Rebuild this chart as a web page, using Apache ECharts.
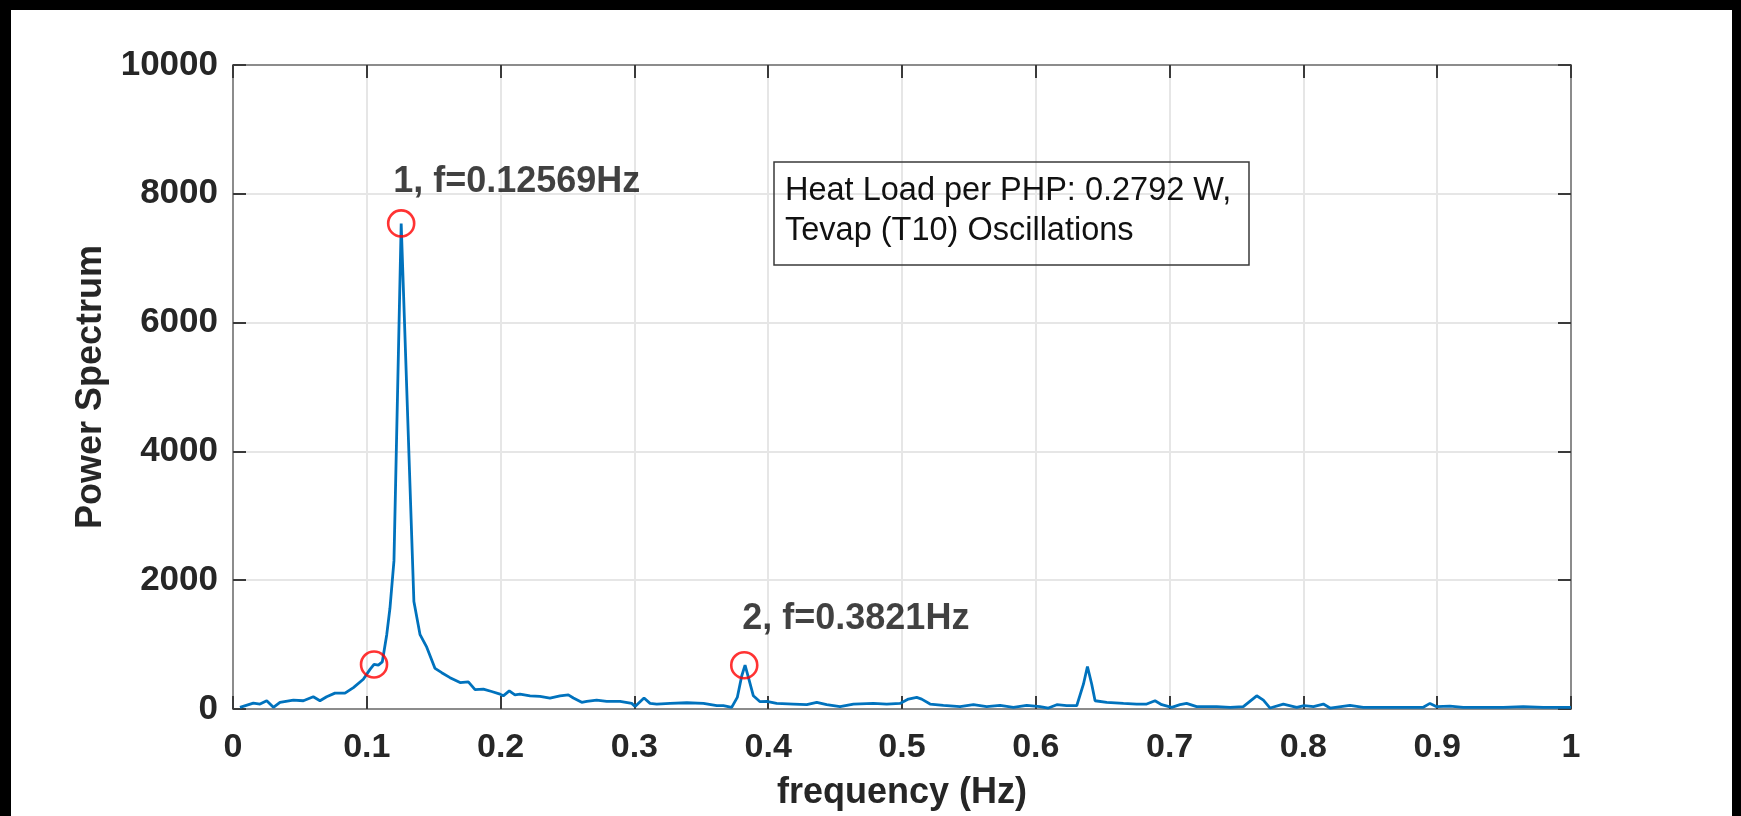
<!DOCTYPE html>
<html>
<head>
<meta charset="utf-8">
<script src="https://cdn.jsdelivr.net/npm/echarts@6/dist/echarts.min.js"></script>
<style>
  html, body { margin: 0; padding: 0; background: #ffffff; }
  #chart { width: 1741px; height: 816px; }
</style>
</head>
<body>
<div id="chart"></div>
<script>
// ---- data ----
const freqs = [0.0052,0.0062,0.0152,0.0202,0.0252,0.0302,0.0351,0.0451,0.0526,0.0600,0.0650,0.0700,0.0762,0.0837,0.0900,0.0974,0.1024,0.1054,0.1086,0.1116,0.1149,0.1173,0.1203,0.1257,0.1352,0.1398,0.1448,0.1510,0.1560,0.1622,0.1697,0.1759,0.1809,0.1871,0.1933,0.1996,0.2020,0.2065,0.2107,0.2145,0.2220,0.2294,0.2369,0.2444,0.2506,0.2544,0.2606,0.2644,0.2718,0.2793,0.2893,0.2980,0.3005,0.3072,0.3117,0.3167,0.3267,0.3392,0.3516,0.3616,0.3665,0.3727,0.3769,0.3802,0.3827,0.3859,0.3889,0.3939,0.3989,0.4063,0.4188,0.4288,0.4363,0.4437,0.4537,0.4637,0.4786,0.4886,0.4985,0.5048,0.5110,0.5147,0.5210,0.5309,0.5434,0.5534,0.5633,0.5733,0.5833,0.5932,0.6032,0.6094,0.6157,0.6231,0.6306,0.6356,0.6386,0.6418,0.6443,0.6530,0.6655,0.6754,0.6829,0.6891,0.6941,0.7016,0.7078,0.7127,0.7202,0.7352,0.7452,0.7551,0.7651,0.7701,0.7751,0.7850,0.7950,0.8005,0.8075,0.8149,0.8199,0.8348,0.8448,0.8597,0.8747,0.8896,0.8946,0.8996,0.9095,0.9195,0.9344,0.9494,0.9643,0.9793,1.0];
const power = [26,36,92,77,128,26,103,138,128,190,128,190,246,246,333,462,615,692,682,733,1154,1564,2300,7540,1670,1154,960,630,564,487,410,420,300,308,272,231,205,282,220,231,205,195,170,205,220,170,103,118,138,118,118,87,40,170,87,77,87,97,87,51,51,26,180,513,680,436,205,113,118,87,77,67,103,67,36,77,87,77,87,154,180,154,77,56,36,67,36,56,26,56,36,15,67,51,51,385,660,385,128,103,87,77,77,128,67,26,67,87,36,36,26,36,205,138,15,77,26,51,36,77,15,56,26,26,26,26,87,36,46,26,26,26,36,26,26];

const markFreqs  = [0.12569, 0.3821, 0.1054];
const markPower  = [7540, 680, 692];
const markLabels = ['1, f=0.12569Hz', '2, f=0.3821Hz', ''];

const xTicks = { min: 0, max: 1, interval: 0.1 };
const yTicks = { min: 0, max: 10000, interval: 2000 };

const xAxisName = 'frequency (Hz)';
const yAxisName = 'Power Spectrum';
const infoLines = ['Heat Load per PHP: 0.2792 W,', 'Tevap (T10) Oscillations'];

// ---- styles ----
const FONT = '"Liberation Sans", Arial, sans-serif';
const AXIS_COLOR = '#8c8c8c';
const TICK_COLOR = '#3a3a3a';
const GRID_COLOR = '#e6e6e6';
const TEXT_COLOR = '#262626';
const labelOffsets = [[-8, -41], [-2, -46], [0, 0]];

const lineData = freqs.map((f, i) => [f, power[i]]);
const markData = markFreqs.map((f, i) => ({
  value: [f, markPower[i]],
  label: { show: markLabels[i] !== '', offset: labelOffsets[i] }
}));

function fmt(v) { return String(Math.round(v * 1000) / 1000); }

const chart = echarts.init(document.getElementById('chart'), null, { renderer: 'canvas' });

const baseAxisLine = { show: true, onZero: false, lineStyle: { color: AXIS_COLOR, width: 2 } };
const baseTick = { show: true, inside: true, length: 13, lineStyle: { color: TICK_COLOR, width: 2 } };

chart.setOption({
  backgroundColor: '#ffffff',
  animation: false,
  textStyle: { fontFamily: FONT },
  grid: { left: 233, top: 65, width: 1338, height: 650, containLabel: false },
  xAxis: [
    {
      type: 'value', position: 'bottom',
      min: xTicks.min, max: xTicks.max, interval: xTicks.interval,
      axisLine: baseAxisLine, axisTick: baseTick,
      splitLine: { show: true, lineStyle: { color: GRID_COLOR, width: 2 } },
      axisLabel: { fontSize: 34, fontWeight: 'bold', color: TEXT_COLOR, margin: 22, fontFamily: FONT, formatter: fmt },
      name: xAxisName, nameLocation: 'middle', nameGap: 66,
      nameTextStyle: { fontSize: 36, fontWeight: 'bold', color: TEXT_COLOR, fontFamily: FONT }
    },
    {
      type: 'value', position: 'top',
      min: xTicks.min, max: xTicks.max, interval: xTicks.interval,
      axisLine: baseAxisLine, axisTick: baseTick,
      splitLine: { show: false }, axisLabel: { show: false }
    }
  ],
  yAxis: [
    {
      type: 'value', position: 'left',
      min: yTicks.min, max: yTicks.max, interval: yTicks.interval,
      axisLine: baseAxisLine, axisTick: baseTick,
      splitLine: { show: true, lineStyle: { color: GRID_COLOR, width: 2 } },
      axisLabel: { fontSize: 35, fontWeight: 'bold', color: TEXT_COLOR, margin: 15, fontFamily: FONT, formatter: fmt },
      name: yAxisName, nameLocation: 'middle', nameGap: 124,
      nameTextStyle: { fontSize: 36, fontWeight: 'bold', color: TEXT_COLOR, fontFamily: FONT }
    },
    {
      type: 'value', position: 'right',
      min: yTicks.min, max: yTicks.max, interval: yTicks.interval,
      axisLine: baseAxisLine, axisTick: baseTick,
      splitLine: { show: false }, axisLabel: { show: false }
    }
  ],
  series: [
    {
      type: 'line', xAxisIndex: 0, yAxisIndex: 0,
      data: lineData, showSymbol: false, symbol: 'none', smooth: false,
      lineStyle: { color: '#0072BD', width: 2.8 }, z: 3
    },
    {
      type: 'scatter', xAxisIndex: 0, yAxisIndex: 0,
      data: markData, symbol: 'circle', symbolSize: 26,
      itemStyle: { color: 'rgba(0,0,0,0)', borderColor: '#ff0000', borderWidth: 2.6 },
      label: {
        show: true, position: 'inside', align: 'left', verticalAlign: 'middle',
        fontSize: 36, fontWeight: 'bold', color: '#111111', fontFamily: FONT,
        formatter: p => markLabels[p.dataIndex]
      },
      emphasis: { disabled: true }, z: 4
    }
  ],
  graphic: [
    { type: 'rect', shape: { x: 774, y: 162, width: 475, height: 103 }, style: { fill: 'none', stroke: '#3a3a3a', lineWidth: 1.5 }, z: 10 },
    { type: 'text', x: 785, y: 171, style: { text: infoLines.join('\n'), font: '32.5px ' + FONT, fill: '#111111', lineHeight: 40, verticalAlign: 'top', align: 'left' }, z: 10 },
    { type: 'rect', shape: { x: 0, y: 0, width: 11, height: 816 }, style: { fill: '#000000' }, z: 20 },
    { type: 'rect', shape: { x: 0, y: 0, width: 1741, height: 10 }, style: { fill: '#000000' }, z: 20 },
    { type: 'rect', shape: { x: 1732, y: 0, width: 9, height: 816 }, style: { fill: '#000000' }, z: 20 }
  ]
});
</script>
</body>
</html>
